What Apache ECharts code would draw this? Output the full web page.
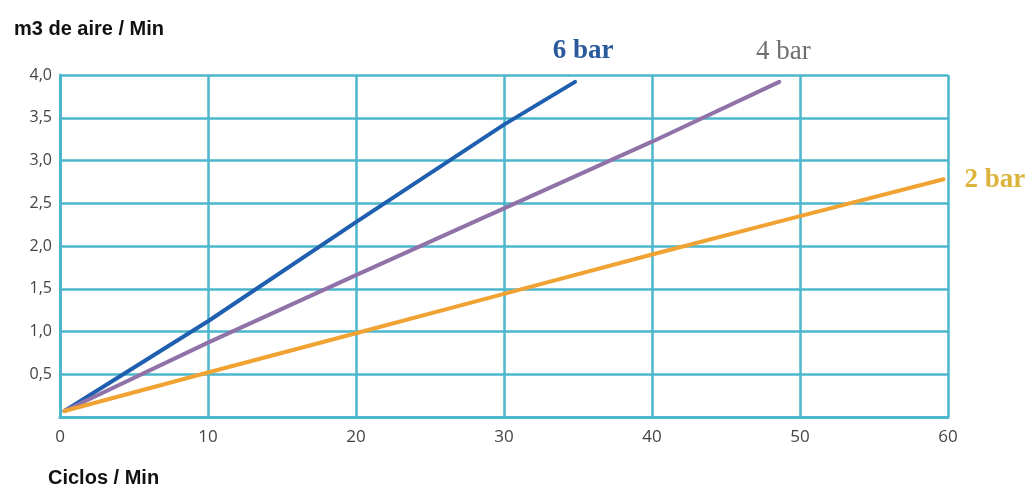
<!DOCTYPE html>
<html>
<head>
<meta charset="utf-8">
<script src="https://cdn.jsdelivr.net/npm/echarts@6/dist/echarts.min.js"></script>
<style>
  html, body { margin: 0; padding: 0; background: #fff; }
  #chart { width: 1034px; height: 495px; }
</style>
</head>
<body>
<div id="chart"></div>
<script>
// x = ciclos / min, y = m3 de aire / min
const names = ['6 bar', '4 bar', '2 bar']
const xs6 = [0.3, 10, 20, 30, 34.8]
const ys6 = [0.07, 1.12, 2.28, 3.42, 3.92]
const xs4 = [0.3, 10, 20, 30, 40, 48.6]
const ys4 = [0.07, 0.87, 1.66, 2.44, 3.22, 3.92]
const xs2 = [0.3, 10, 20, 30, 40, 50, 59.7]
const ys2 = [0.07, 0.52, 0.98, 1.44, 1.9, 2.35, 2.78]
const lineColors = ['#1f5fb0', '#8f72a8', '#f0a232']
const labelColors = ['#2b5a9c', '#6f6f6f', '#dcb43c']

const chart = echarts.init(document.getElementById('chart'))

function pairs(xs, ys) {
  return xs.map((x, i) => [x, ys[i]])
}

const gridColor = '#4cb6cc'
const labelFont = 'Liberation Serif'

// end labels: 6 bar / 4 bar sit above the line end, 2 bar to its right
const endLabels = [
  { align: 'center', offset: [0, -31], fontWeight: 'bold' },
  { align: 'center', offset: [-4, -30], fontWeight: 'normal' },
  { align: 'left', offset: [13, 1], fontWeight: 'bold' },
]

const series = [pairs(xs6, ys6), pairs(xs4, ys4), pairs(xs2, ys2)].map((data, i) => ({
  name: names[i],
  type: 'line',
  data,
  symbol: 'none',
  z: 5,
  lineStyle: { color: lineColors[i], width: 4, cap: 'round' },
  endLabel: {
    show: true,
    formatter: names[i],
    color: labelColors[i],
    fontFamily: labelFont,
    fontSize: 27,
    verticalAlign: 'middle',
    ...endLabels[i],
  },
}))

chart.setOption({
  animation: false,
  grid: { left: 60, right: 86, top: 75, bottom: 78 },
  graphic: [
    {
      type: 'text', left: 14, top: 19,
      style: { text: 'm3 de aire / Min', font: 'bold 20px "Liberation Sans"', fill: '#111' }
    },
    {
      type: 'text', left: 48, top: 468,
      style: { text: 'Ciclos / Min', font: 'bold 20px "Liberation Sans"', fill: '#111' }
    },
  ],
  xAxis: {
    type: 'value', min: 0, max: 60, interval: 10,
    axisLine: { show: true, lineStyle: { color: gridColor, width: 3 } },
    axisTick: { show: false },
    splitLine: { show: true, lineStyle: { color: gridColor, width: 2.5 } },
    axisLabel: { color: '#444', fontSize: 17, fontFamily: 'Open Sans', margin: 12 },
  },
  yAxis: {
    type: 'value', min: 0, max: 4, interval: 0.5,
    axisLine: { show: true, lineStyle: { color: gridColor, width: 3 } },
    axisTick: { show: false },
    splitLine: { show: true, lineStyle: { color: gridColor, width: 2.5 } },
    axisLabel: {
      color: '#444', fontSize: 16, fontFamily: 'Open Sans', margin: 8,
      formatter: v => v === 0 ? '' : v.toFixed(1).replace('.', ',')
    },
  },
  series,
})
</script>
</body>
</html>
